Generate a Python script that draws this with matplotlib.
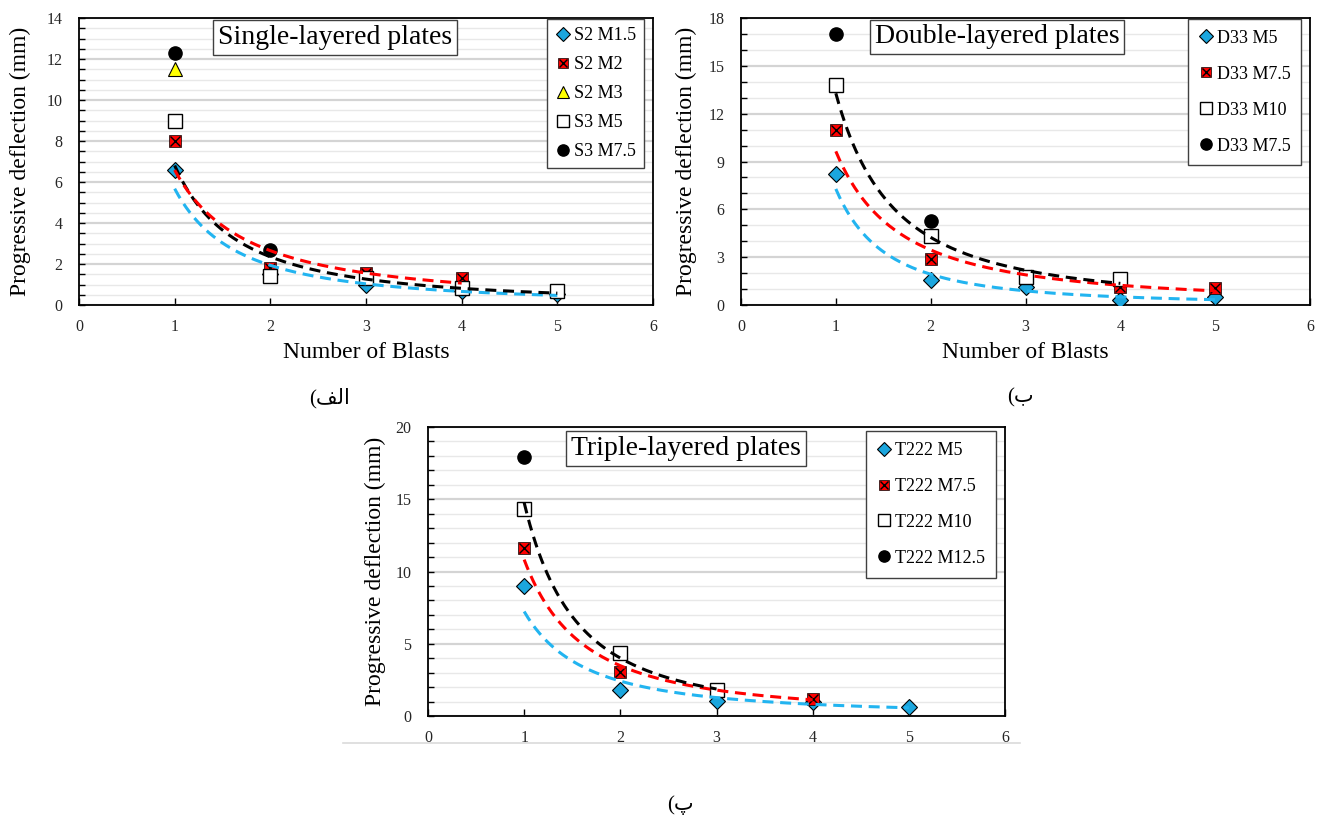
import numpy as np
import matplotlib
matplotlib.use('Agg')
import matplotlib.pyplot as plt
from matplotlib.ticker import MultipleLocator
from matplotlib.legend_handler import HandlerTuple
from matplotlib.lines import Line2D

plt.rcParams['font.family'] = ['Liberation Serif', 'DejaVu Sans']

# number of blasts
blasts = [1, 2, 3, 4, 5]

# single-layered plates
s2_m15 = [6.6, 1.5, 1.0, 0.68, 0.52]
s2_m2 = [8.0, 1.8, 1.55, 1.3]
s2_m3 = [11.5]
s3_m5 = [9.0, 1.4, 1.3, 0.85, 0.68]
s3_m75 = [12.3, 2.7]

# double-layered plates
d33_m5 = [8.2, 1.56, 1.14, 0.29, 0.5]
d33_m75 = [11.0, 2.88, 1.8, 1.12, 1.08]
d33_m10 = [13.8, 4.3, 1.75, 1.6]
d33_m75b = [17.0, 5.27]

# triple-layered plates
t222_m5 = [9.0, 1.77, 1.03, 0.97, 0.64]
t222_m75_x = [1, 2, 4]
t222_m75 = [11.6, 3.03, 1.2]
t222_m10 = [14.3, 4.37, 1.77]
t222_m125 = [17.9]

BLUE = '#1BA6DE'
TBLUE = '#22B4F0'
W, H = 1331., 821.


def pos(l, r, t, b):
    """axes rect from pixel edges"""
    return [l/W, 1-b/H, (r-l)/W, (b-t)/H]


def points(ax, x, y, kind):
    """draw one series of markers, returns legend handle"""
    x = x[:len(y)]
    if kind == 'diamond':
        return ax.plot(x, y, 'D', ms=8.3, mfc=BLUE, mec='k', mew=0.8, ls='none', zorder=3)[0]
    if kind == 'xsquare':
        h1 = ax.plot(x, y, 's', ms=8.8, mfc='#FF0000', mec='k', mew=0.5, ls='none', zorder=3)[0]
        h2 = ax.plot(x, y, 'x', ms=7, mec='k', mew=1.0, ls='none', zorder=3)[0]
        return (h1, h2)
    if kind == 'triangle':
        return ax.plot(x, y, '^', ms=10, mfc='#FFFF00', mec='k', mew=0.8, ls='none', zorder=3)[0]
    if kind == 'square':
        return ax.plot(x, y, 's', ms=9.5, mfc='white', mec='k', mew=1.0, ls='none', zorder=3)[0]
    return ax.plot(x, y, 'o', ms=9.5, mfc='k', mec='k', ls='none', zorder=3)[0]


def trend(ax, x, y, color):
    """power law trendline (excel style)"""
    x = np.array(x[:len(y)], dtype=float)
    b, lna = np.polyfit(np.log(x), np.log(y), 1)
    xx = np.linspace(x.min(), x.max(), 200)
    ax.plot(xx, np.exp(lna)*xx**b, ls=(0, (3.6, 2.2)), lw=2.2, color=color, zorder=4)


def setup(ax, ymax, major, minor):
    ax.set_xlim(0, 6)
    ax.set_ylim(0, ymax)
    ax.xaxis.set_major_locator(MultipleLocator(1))
    ax.yaxis.set_major_locator(MultipleLocator(major))
    ax.yaxis.set_minor_locator(MultipleLocator(minor))
    ax.grid(True, which='major', axis='y', color='#d4d4d4', lw=1.6)
    ax.grid(True, which='minor', axis='y', color='#e8e8e8', lw=1.0)
    ax.set_axisbelow(True)
    ax.tick_params(axis='y', which='both', direction='in', length=4, width=1, pad=12,
                   labelsize=11.5, labelcolor='#262626', left=True, right=False)
    ax.tick_params(axis='x', which='major', direction='in', length=5, width=1, pad=10,
                   labelsize=11.5, labelcolor='#262626')
    ax.tick_params(axis='x', which='minor', bottom=False)
    for s in ax.spines.values():
        s.set_color('k')
        s.set_linewidth(1.3)


def title_box(ax, text, xf, yf):
    ax.text(xf, yf, text, transform=ax.transAxes, ha='center', va='center', fontsize=20,
            bbox=dict(boxstyle='square,pad=0.17', fc='white', ec='#404040', lw=1.0), zorder=5)


def legend(ax, handles, labels, anchor, spacing, bpad):
    lg = ax.legend(handles, labels, loc='upper right', bbox_to_anchor=anchor, frameon=True,
                   fancybox=False, edgecolor='#404040', framealpha=1, fontsize=13,
                   markerscale=0.85, handlelength=0.8, handletextpad=0.2,
                   labelspacing=spacing, borderpad=bpad, borderaxespad=0,
                   handler_map={tuple: HandlerTuple(ndivide=1)})
    lg.get_frame().set_linewidth(1.0)
    lg.set_zorder(6)


fig = plt.figure(figsize=(W/100, H/100), dpi=100)

# ---- (a) single-layered
ax1 = fig.add_axes(pos(79, 653, 18, 305))
setup(ax1, 14, 2, 0.5)
h = [points(ax1, blasts, s2_m15, 'diamond'),
     points(ax1, blasts, s2_m2, 'xsquare'),
     points(ax1, blasts, s2_m3, 'triangle'),
     points(ax1, blasts, s3_m5, 'square'),
     points(ax1, blasts, s3_m75, 'circle')]
trend(ax1, blasts, s2_m15, TBLUE)
trend(ax1, blasts, s3_m5, 'k')
trend(ax1, blasts, s2_m2, '#FF0000')
title_box(ax1, 'Single-layered plates', 0.446, 0.932)
legend(ax1, h, ['S2 M1.5', 'S2 M2', 'S2 M3', 'S3 M5', 'S3 M7.5'], (0.984, 0.997), 0.67, 0.45)
ax1.set_xlabel('Number of Blasts', fontsize=17)
ax1.set_ylabel('Progressive deflection (mm)', fontsize=17)
ax1.xaxis.set_label_coords(0.5, -0.13)
ax1.yaxis.set_label_coords(-0.083, 0.5)

# ---- (b) double-layered
ax2 = fig.add_axes(pos(741, 1310, 18, 305))
setup(ax2, 18, 3, 1)
h = [points(ax2, blasts, d33_m5, 'diamond'),
     points(ax2, blasts, d33_m75, 'xsquare'),
     points(ax2, blasts, d33_m10, 'square'),
     points(ax2, blasts, d33_m75b, 'circle')]
trend(ax2, blasts, d33_m5, TBLUE)
trend(ax2, blasts, d33_m75, '#FF0000')
trend(ax2, blasts, d33_m10, 'k')
title_box(ax2, 'Double-layered plates', 0.45, 0.934)
legend(ax2, h, ['D33 M5', 'D33 M7.5', 'D33 M10', 'D33 M7.5'], (0.985, 0.997), 1.05, 0.6)
ax2.set_xlabel('Number of Blasts', fontsize=17)
ax2.set_ylabel('Progressive deflection (mm)', fontsize=17)
ax2.xaxis.set_label_coords(0.5, -0.13)
ax2.yaxis.set_label_coords(-0.078, 0.5)

# ---- (c) triple-layered
ax3 = fig.add_axes(pos(428, 1005, 427, 716))
setup(ax3, 20, 5, 1)
h = [points(ax3, blasts, t222_m5, 'diamond'),
     points(ax3, t222_m75_x, t222_m75, 'xsquare'),
     points(ax3, blasts, t222_m10, 'square'),
     points(ax3, blasts, t222_m125, 'circle')]
trend(ax3, blasts, t222_m5, TBLUE)
trend(ax3, t222_m75_x, t222_m75, '#FF0000')
trend(ax3, blasts, t222_m10, 'k')
title_box(ax3, 'Triple-layered plates', 0.447, 0.926)
legend(ax3, h, ['T222 M5', 'T222 M7.5', 'T222 M10', 'T222 M12.5'], (0.984, 0.986), 1.05, 0.6)
ax3.set_ylabel('Progressive deflection (mm)', fontsize=17)
ax3.yaxis.set_label_coords(-0.072, 0.5)

# light border under the third chart
fig.add_artist(Line2D([343/W, 1020/W], [1-743/H, 1-743/H], color='#dadada', lw=1.2))

# captions (visual order, arabic presentation forms)
fig.text(330/W, 1-398/H, '(\ufed2\ufedf\ufe8d', ha='center', va='center', fontsize=15)
fig.text(1020/W, 1-398/H, '(\u0628', ha='center', va='center', fontsize=15)
fig.text(680/W, 1-805/H, '(\u067e', ha='center', va='center', fontsize=15)

fig.savefig('out.png', dpi=100)
